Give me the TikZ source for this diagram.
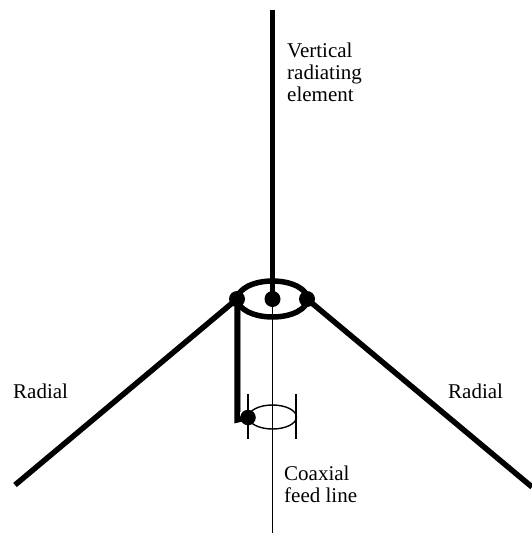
\documentclass[tikz,border=0pt]{standalone}
\usepackage{fontspec}
\setmainfont{Liberation Serif}
\begin{document}
\begin{tikzpicture}[x=1pt,y=-1pt,
  thick line/.style={line width=5.5pt},
  thin line/.style={line width=1.4pt},
  dot/.style={circle,fill=black,inner sep=0pt,minimum size=16pt},
  lab/.style={inner sep=0pt,align=left,font=\fontsize{21}{22.3}\selectfont}]
\useasboundingbox (0,0) rectangle (532,535);
\coordinate (thinA) at (240,299);
\coordinate (thinB) at (240,412);
\draw[line width=1pt,black!45] (thinA) -- (thinB);
\node[dot] (L) at (237,299) {};
\node[dot] (C) at (272.5,299) {};
\node[dot] (R) at (307,299) {};
\coordinate (top) at (272.5,10);
\coordinate (el) at (15,485);
\coordinate (er) at (532,487);
\coordinate (bot) at (272.5,533);
\coordinate (corner) at (237,420);
\node[dot,minimum size=15.5pt] (S) at (248,417.5) {};
\draw[thick line] (C.center) -- (top);
\draw[thick line] (272.5,299) ellipse [x radius=35,y radius=18];
\draw[thick line] (L.center) -- (el);
\draw[thick line] (R.center) -- (er);
\draw[thick line,line join=miter] (L.center) -- (corner) -- (S.center);
\draw[thin line] (C.center) -- (bot);
\draw[thin line] (272.5,417) ellipse [x radius=24,y radius=12];
\draw[thin line] (248,394) -- (248,439);
\draw[thin line] (296,394) -- (296,439);
\node[lab,anchor=north west] (v) at (287,42.5) {Vertical\\radiating\\element};
\node[lab,anchor=base west] (rl) at (13,398.5) {Radial};
\node[lab,anchor=base west] (rr) at (448,398.5) {Radial};
\node[lab,anchor=north west] (cx) at (284,465.5) {Coaxial\\feed line};
\end{tikzpicture}
\end{document}
